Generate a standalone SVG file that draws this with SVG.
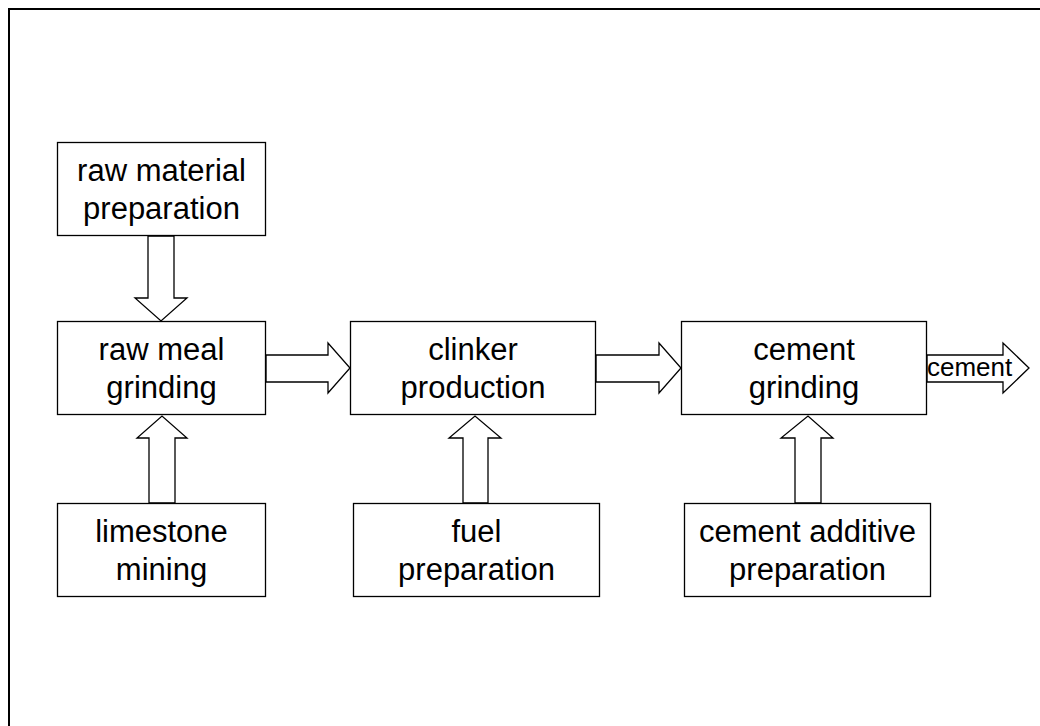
<svg xmlns="http://www.w3.org/2000/svg" width="1040" height="726" viewBox="0 0 1040 726">
<style>
.box{fill:#fff;stroke:#000;stroke-width:1.3}
.arr{fill:#fff;stroke:#000;stroke-width:1.3;stroke-linejoin:miter}
.t{font-family:"Liberation Sans",Arial,sans-serif;font-size:31px;fill:#000;text-anchor:middle}
.lbl{font-family:"Liberation Sans",Arial,sans-serif;font-size:26px;fill:#000}
</style>
<rect x="0" y="0" width="1040" height="726" fill="#fff"/>
<rect x="9" y="9" width="1100" height="800" fill="none" stroke="#000" stroke-width="2"/>
<g id="connectors">
<polygon class="arr" points="148,236 174,236 174,298 187,298 161,321 135,298 148,298"/>
<polygon class="arr" points="149,503 175,503 175,438 187,438 162,416 137,438 149,438"/>
<polygon class="arr" points="463,503 488,503 488,438 501,438 475,416 449,438 463,438"/>
<polygon class="arr" points="795,503 821,503 821,438 833,438 808,416 781,438 795,438"/>
<polygon class="arr" points="266,355 328,355 328,343 350,368 328,393 328,382 266,382"/>
<polygon class="arr" points="596,355 659,355 659,343 681,368 659,393 659,382 596,382"/>
<polygon class="arr" points="927,355 1003,355 1003,343 1029,368 1003,393 1003,382 927,382"/>
<text class="lbl" x="927" y="376">cement</text>
</g>
<g id="raw-material-preparation">
<rect class="box" x="57.5" y="142.5" width="208" height="93"/>
<text class="t" x="161.5" y="181">raw material</text>
<text class="t" x="161.5" y="219">preparation</text>
</g>
<g id="raw-meal-grinding">
<rect class="box" x="57.5" y="321.5" width="208" height="93"/>
<text class="t" x="161.5" y="360">raw meal</text>
<text class="t" x="161.5" y="398">grinding</text>
</g>
<g id="clinker-production">
<rect class="box" x="350.5" y="321.5" width="245" height="93"/>
<text class="t" x="473" y="360">clinker</text>
<text class="t" x="473" y="398">production</text>
</g>
<g id="cement-grinding">
<rect class="box" x="681.5" y="321.5" width="245" height="93"/>
<text class="t" x="804" y="360">cement</text>
<text class="t" x="804" y="398">grinding</text>
</g>
<g id="limestone-mining">
<rect class="box" x="57.5" y="503.5" width="208" height="93"/>
<text class="t" x="161.5" y="542">limestone</text>
<text class="t" x="161.5" y="580">mining</text>
</g>
<g id="fuel-preparation">
<rect class="box" x="353.5" y="503.5" width="246" height="93"/>
<text class="t" x="476.5" y="542">fuel</text>
<text class="t" x="476.5" y="580">preparation</text>
</g>
<g id="cement-additive-preparation">
<rect class="box" x="684.5" y="503.5" width="246" height="93"/>
<text class="t" x="807.5" y="542">cement additive</text>
<text class="t" x="807.5" y="580">preparation</text>
</g>
</svg>
